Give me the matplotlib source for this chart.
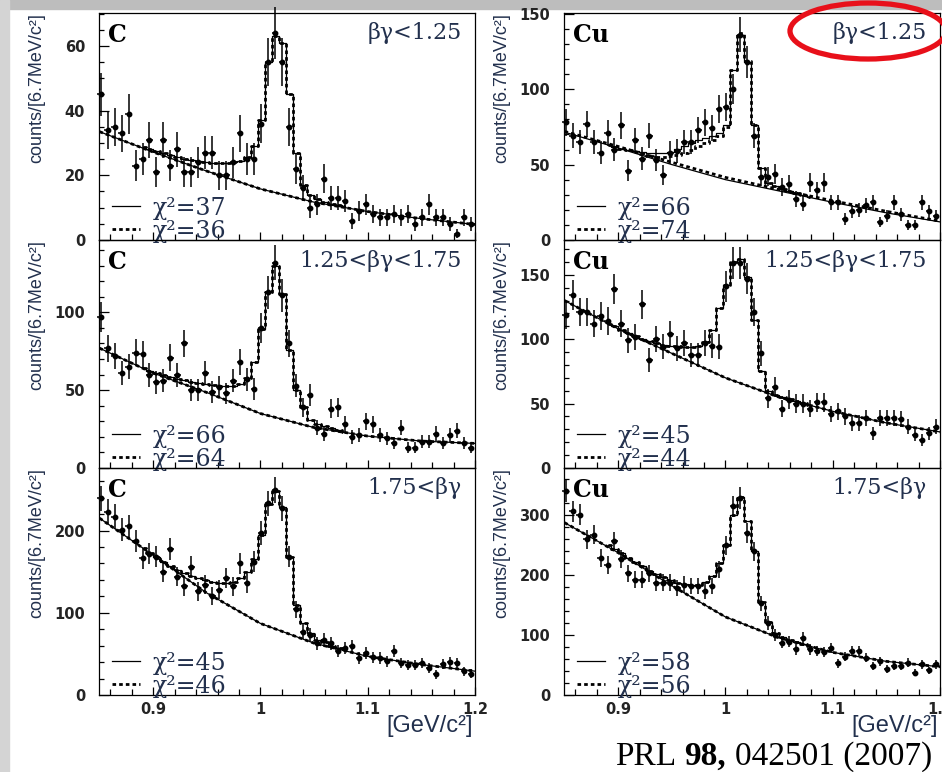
from pathlib import Path

import numpy as np
import matplotlib
matplotlib.use("Agg")
import matplotlib.pyplot as plt
from matplotlib.lines import Line2D
from matplotlib.patches import Ellipse, Rectangle
from matplotlib.ticker import MultipleLocator, FormatStrFormatter

# K+K- invariant mass bins [GeV/c^2]
mass_start = 0.851
bin_step = 0.00651
n_bins = 54
fit_first, fit_last = 6, 36   # fit histograms are shown over bins 6..35

# smooth background curve, sampled at these masses
bg_mass = [0.85, 0.90, 0.95, 1.00, 1.05, 1.10, 1.15, 1.20]

# ---- C, bg < 1.25
c_lo_counts = [45, 34, 35, 33, 39, 23, 25, 31, 21, 31, 23, 28, 21, 21, 24, 27, 27, 20,
               20, 24, 33, 25, 25, 36, 55, 64, 55, 35, 22, 16, 10, 11, 19, 13, 13, 12,
               6, 9, 11, 8, 7, 7, 8, 7, 8, 5, 7, 11, 7, 7, 5, 2, 7, 5]
c_lo_fit = [28.7, 28.1, 27.5, 26.9, 26.3, 25.8, 25.2, 24.8, 24.4, 24.1, 23.9, 23.8,
            23.8, 24.0, 24.5, 25.8, 29, 37, 55, 63, 61, 45, 27, 17, 14, 12.6, 11.9,
            11.2, 10.7, 10.4]
c_lo_bg = [33.5, 27.2, 21.3, 15.8, 11.7, 8.8, 6.6, 4.8]

# ---- Cu, bg < 1.25
cu_lo_counts = [78, 69, 65, 77, 65, 58, 71, 60, 76, 46, 66, 54, 69, 53, 43, 58, 59, 65,
                65, 73, 78, 74, 87, 88, 100, 136, 118, 69, 42, 42, 44, 35, 37, 27, 24,
                38, 33, 38, 25, 25, 14, 19, 20, 23, 25, 12, 16, 25, 17, 10, 10, 25, 19, 16]
cu_lo_fit = [63, 61.8, 60.6, 59.6, 58.8, 58.2, 57.8, 57.6, 57.8, 58.5, 60.5, 62.5,
             64.5, 66, 67.5, 69, 71, 76, 113, 136, 118, 76, 48, 38, 35.5, 33.5, 32.3,
             31, 29.8, 28.8]
cu_lo_fit_dash = [63, 61.8, 60.6, 59.4, 58.2, 57, 56, 55.3, 55.2, 55.6, 56.5, 58, 60,
                  62, 64, 66.5, 69, 75, 113, 137, 119, 76, 48, 38, 35.5, 33.5, 32.3,
                  31, 29.8, 28.8]
cu_lo_bg = [71.5, 61, 50, 40, 32.5, 25, 18, 12]
cu_lo_bg_dash = [72, 62, 51.5, 41.5, 33.5, 26, 19, 12.5]

# ---- C, 1.25 < bg < 1.75
c_mid_counts = [97, 77, 72, 61, 65, 74, 73, 60, 55, 56, 71, 60, 80, 50, 50, 61, 49, 52,
                48, 56, 68, 57, 51, 90, 113, 132, 111, 80, 53, 39, 47, 26, 22, 38, 39,
                28, 20, 21, 30, 28, 21, 19, 16, 26, 13, 13, 17, 17, 22, 16, 21, 24, 16, 13]
c_mid_fit = [64, 62.5, 61, 59.7, 58.5, 57.3, 56.3, 55.3, 54.5, 53.8, 53.2, 52.8, 52.6,
             52.8, 54, 58, 68, 89, 113, 130, 112, 76, 50, 39, 31, 28.5, 26.8, 25.6,
             24.4, 23.4]
c_mid_bg = [77, 61, 48.5, 35, 26, 20.5, 17.3, 15.8]

# ---- Cu, 1.25 < bg < 1.75
cu_mid_counts = [119, 134, 121, 121, 112, 118, 114, 139, 112, 99, 102, 127, 84, 100, 94,
                 104, 93, 97, 88, 88, 97, 95, 94, 141, 159, 159, 147, 121, 89, 54, 63,
                 46, 53, 50, 50, 46, 51, 51, 42, 44, 40, 35, 35, 39, 27, 39, 39, 39, 38,
                 32, 26, 22, 27, 32]
cu_mid_fit = [112, 110, 107.5, 105, 102.5, 100.5, 98.5, 97, 95.5, 95, 94.5, 94, 94, 95,
              98, 107, 124, 142, 160, 162, 148, 115, 75, 60, 57, 55, 53.5, 52, 50.5, 49]
cu_mid_bg = [130, 108, 89, 70, 55, 44, 35, 28]

# ---- C, 1.75 < bg
c_hi_counts = [239, 223, 217, 201, 205, 187, 166, 172, 168, 150, 178, 144, 132, 156, 126,
               134, 120, 128, 142, 132, 160, 136, 162, 197, 233, 249, 227, 168, 104, 77,
               73, 63, 67, 63, 53, 57, 59, 45, 51, 46, 45, 41, 53, 39, 37, 37, 39, 33,
               25, 38, 40, 39, 29, 26]
c_hi_fit = [179, 173, 167.5, 162, 157, 152.5, 148.5, 145, 142, 139.5, 137.5, 136.5,
            136.5, 138, 142, 150, 165, 195, 232, 248, 228, 168, 110, 88, 75, 67, 64, 60,
            57, 54.5]
c_hi_bg = [215, 170, 124, 87, 63, 47, 37, 29]

# ---- Cu, 1.75 < bg
cu_hi_counts = [339, 306, 300, 259, 267, 228, 217, 256, 226, 203, 192, 192, 203, 187, 187,
                187, 178, 184, 181, 181, 173, 181, 209, 249, 314, 328, 270, 239, 153, 120,
                100, 87, 89, 76, 95, 76, 73, 71, 78, 53, 64, 73, 73, 62, 48, 56, 43, 48,
                48, 54, 37, 51, 41, 51]
cu_hi_fit = [250, 243, 236, 228, 221, 214, 207, 201, 196, 191, 187, 185, 184, 184, 188,
             198, 220, 250, 300, 330, 290, 240, 155, 122, 104, 97, 92, 88, 85, 81]
cu_hi_bg = [287, 237, 182, 130, 95, 71, 56, 47]

targets = ["C", "Cu", "C", "Cu", "C", "Cu"]
bg_labels = ["βγ<1.25", "βγ<1.25", "1.25<βγ<1.75", "1.25<βγ<1.75", "1.75<βγ", "1.75<βγ"]
chi2_solid = [37, 66, 66, 45, 45, 58]
chi2_dash = [36, 74, 64, 44, 46, 56]
y_max = [70.2, 150.5, 146.5, 177, 276, 378]
y_major = [20, 50, 50, 50, 100, 100]
y_minor = [5, 10, 10, 10, 20, 20]

BLUE_TXT = "#22304d"
DASH = (0, (1.3, 1.1))


def build_panels():
    counts = [c_lo_counts, cu_lo_counts, c_mid_counts, cu_mid_counts, c_hi_counts, cu_hi_counts]
    fits = [c_lo_fit, cu_lo_fit, c_mid_fit, cu_mid_fit, c_hi_fit, cu_hi_fit]
    fits_dash = [c_lo_fit, cu_lo_fit_dash, c_mid_fit, cu_mid_fit, c_hi_fit, cu_hi_fit]
    bgs = [c_lo_bg, cu_lo_bg, c_mid_bg, cu_mid_bg, c_hi_bg, cu_hi_bg]
    bgs_dash = [c_lo_bg, cu_lo_bg_dash, c_mid_bg, cu_mid_bg, c_hi_bg, cu_hi_bg]
    panels = []
    for i in range(6):
        panels.append(dict(target=targets[i], label=bg_labels[i], counts=np.array(counts[i], float),
                           fit=fits[i], fit_dash=fits_dash[i], bg=bgs[i], bg_dash=bgs_dash[i],
                           chi=(chi2_solid[i], chi2_dash[i]), ymax=y_max[i],
                           major=y_major[i], minor=y_minor[i]))
    return panels


def draw_panel(ax, p, mass, bottom_row):
    fit_mass = mass[fit_first:fit_last]
    ax.plot(bg_mass, p["bg"], color="black", lw=0.9, zorder=2)
    ax.plot(bg_mass, p["bg_dash"], color="black", lw=2.0, ls=DASH, zorder=2)
    ax.step(fit_mass, p["fit"], where="mid", color="black", lw=0.9, zorder=2)
    ax.step(fit_mass, p["fit_dash"], where="mid", color="black", lw=2.0, ls=DASH, zorder=2)
    eb = ax.errorbar(mass, p["counts"], yerr=np.sqrt(p["counts"]), xerr=0.003, fmt="o",
                     ms=3.2, color="black", elinewidth=1.1, capsize=0, zorder=3)
    for art in eb.get_children():
        art.set_clip_on(False)

    ax.set_xlim(0.8495, 1.2)
    ax.set_ylim(0, p["ymax"])
    ax.set_facecolor("none")
    ax.xaxis.set_major_locator(MultipleLocator(0.1))
    ax.xaxis.set_minor_locator(MultipleLocator(0.02))
    ax.xaxis.set_major_formatter(FormatStrFormatter("%g"))
    ax.yaxis.set_major_locator(MultipleLocator(p["major"]))
    ax.yaxis.set_minor_locator(MultipleLocator(p["minor"]))
    ax.tick_params(which="both", direction="in", top=False, right=False, width=0.9,
                   colors="black", labelcolor="#242424")
    ax.tick_params(axis="y", which="major", length=7.5, pad=10)
    ax.tick_params(axis="y", which="minor", length=3.8)
    ax.tick_params(axis="x", which="major", length=6, pad=5)
    ax.tick_params(axis="x", which="minor", length=4)
    for lab in ax.get_xticklabels() + ax.get_yticklabels():
        lab.set_fontfamily("DejaVu Sans")
        lab.set_fontweight("bold")
        lab.set_fontsize(10.5)
    if not bottom_row:
        ax.tick_params(axis="x", labelbottom=False)
    for sp in ax.spines.values():
        sp.set_linewidth(0.9)

    ax.set_ylabel("counts/[6.7MeV/c²]", loc="top", fontsize=13, family="Liberation Sans",
                  color=BLUE_TXT)
    ax.yaxis.set_label_coords(-0.143, 1.0)
    if bottom_row:
        ax.set_xlabel("[GeV/c²]", loc="right", fontsize=17, family="Liberation Sans",
                      color=BLUE_TXT)
        ax.xaxis.set_label_coords(0.995, -0.09)

    ax.text(0.025, 0.905, p["target"], transform=ax.transAxes, fontsize=17,
            fontweight="bold", family="DejaVu Serif", va="center", color="black")
    ax.text(0.965, 0.91, p["label"], transform=ax.transAxes, fontsize=16,
            family="DejaVu Serif", va="center", ha="right", color=BLUE_TXT)

    handles = [Line2D([], [], color="black", lw=0.9),
               Line2D([], [], color="black", lw=2.0, ls=DASH)]
    labels = [f"χ²={p['chi'][0]}", f"χ²={p['chi'][1]}"]
    ax.legend(handles, labels, loc="lower left", bbox_to_anchor=(0.035, -0.012), frameon=False,
              prop={"family": "DejaVu Serif", "size": 17}, labelcolor=BLUE_TXT,
              handlelength=1.2, handletextpad=0.5, labelspacing=0.0,
              borderpad=0.0, borderaxespad=0.0)


def make_plot():
    fig = plt.figure(figsize=(9.42, 7.72), dpi=100, facecolor="white")
    # grey slide border at the top and on the left
    fig.add_artist(Rectangle((0, 1 - 9 / 772), 1, 9 / 772, transform=fig.transFigure,
                             color="#bdbdbd", zorder=-5))
    fig.add_artist(Rectangle((0, 0), 9 / 942, 1, transform=fig.transFigure,
                             color="#d4d4d4", zorder=-5))

    mass = mass_start + bin_step * np.arange(n_bins)
    panels = build_panels()
    col_x = [99 / 942, 564 / 942]
    col_w = 376 / 942
    rows = [(532 / 772, 227 / 772), (304 / 772, 228 / 772), (77 / 772, 227 / 772)]
    for i, p in enumerate(panels):
        r, c = divmod(i, 2)
        ax = fig.add_axes([col_x[c], rows[r][0], col_w, rows[r][1]])
        draw_panel(ax, p, mass, bottom_row=(r == 2))

    # red marker around the first beta*gamma bin of the Cu panel
    fig.add_artist(Ellipse((868 / 942, 1 - 31 / 772), 156 / 942, 56 / 772,
                           transform=fig.transFigure, fill=False, edgecolor="#e8101a",
                           lw=3.8, zorder=10))

    # reference
    t1 = fig.text(0.653, 0.009, "PRL", family="Liberation Serif", fontsize=24,
                  va="baseline", color="black")
    t2 = fig.axes[0].annotate("98,", xy=(1, 0), xycoords=t1, xytext=(6, 0),
                              textcoords="offset points", family="Liberation Serif",
                              fontsize=24, fontweight="bold", va="bottom",
                              annotation_clip=False)
    fig.axes[0].annotate("042501 (2007)", xy=(1, 0), xycoords=t2, xytext=(6, 0),
                         textcoords="offset points", family="Liberation Serif",
                         fontsize=24, va="bottom", annotation_clip=False)
    return fig


def save_plot(fig, filename):
    Path(filename).parent.mkdir(parents=True, exist_ok=True)
    fig.savefig(filename, format="png", dpi=100)


def main():
    fig = make_plot()
    save_plot(fig, "out.png")


if __name__ == "__main__":
    main()
